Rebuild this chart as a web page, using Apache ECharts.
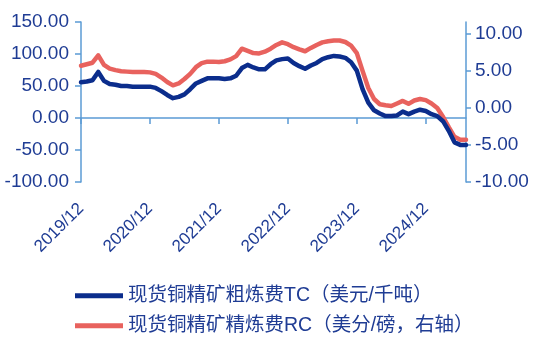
<!DOCTYPE html>
<html>
<head>
<meta charset="utf-8">
<script src="https://cdn.jsdelivr.net/npm/echarts@6/dist/echarts.min.js"></script>
<style>html,body{margin:0;padding:0;background:#fff}#c{width:550px;height:343px}</style>
</head>
<body>
<div id="c"></div>
<script>
// Monthly points from 2019/12 to 2025/07
var months = [];
(function(){ var y=2019,m=12; for(var i=0;i<68;i++){ months.push(y+'/'+(m<10?'0'+m:m)); m++; if(m>12){m=1;y++;} } })();

var tcName = '现货铜精矿粗炼费TC（美元/千吨）';
var rcName = '现货铜精矿精炼费RC（美分/磅，右轴）';

var tcValues = [
  56, 57, 59, 72, 58, 53, 52, 50, 50, 49, 49, 49,
  49, 47, 42, 36, 31, 33, 37, 45, 54, 58, 62, 62,
  62, 61, 62, 66, 78, 83, 79, 76, 76, 84, 90, 92,
  93, 86, 81, 77, 82, 86, 92, 95, 97, 96, 94, 87,
  74, 45, 24, 12, 7, 3, 3, 4, 10, 6, 10, 13,
  11, 6, 3, -5, -20, -38, -42, -42
];

var rcValues = [
  5.7, 5.9, 6.1, 7.1, 5.8, 5.3, 5.1, 4.95, 4.9, 4.85, 4.85, 4.85,
  4.8, 4.6, 4.1, 3.5, 3.05, 3.3, 3.9, 4.6, 5.5, 6.05, 6.25, 6.25,
  6.2, 6.3, 6.55, 7.0, 8.0, 7.7, 7.4, 7.35, 7.6, 8.0, 8.5, 8.85,
  8.6, 8.2, 7.9, 7.65, 8.1, 8.5, 8.85, 9.0, 9.1, 9.1, 8.9, 8.4,
  7.4, 5.0, 2.7, 1.2, 0.5, 0.35, 0.25, 0.6, 0.95, 0.55, 1.0, 1.2,
  1.05, 0.6, 0.0, -1.2, -2.6, -3.9, -4.3, -4.3
];

var rightTicks = [-10, -5, 0, 5, 10];

var axisColor = '#5b9bd5';
var textColor = '#1f3c94';
var font = '"Liberation Sans", Arial, "Noto Sans CJK SC", sans-serif';

function legendFor(name, top) {
  return {
    left: 75, top: top, padding: 0,
    icon: 'rect',
    itemWidth: 48, itemHeight: 5, itemGap: 8,
    textStyle: { color: textColor, fontSize: 19.5, fontFamily: font },
    data: [name]
  };
}

var chart = echarts.init(document.getElementById('c'), null, {renderer:'canvas'});
chart.setOption({
  animation: false,
  backgroundColor: '#ffffff',
  grid: { left: 81, right: 84, top: 22, bottom: 161, containLabel: false },
  legend: [ legendFor(tcName, 286), legendFor(rcName, 316) ],
  xAxis: {
    type: 'category',
    boundaryGap: false,
    data: months,
    axisLine: { onZero: true, lineStyle: { color: axisColor, width: 1.5 } },
    axisTick: { show: true, interval: 11, length: 6, lineStyle: { color: axisColor, width: 1.5 } },
    axisLabel: {
      interval: 11, rotate: 45, margin: 24,
      color: textColor, fontSize: 17, fontFamily: font
    },
    splitLine: { show: false }
  },
  yAxis: [
    {
      type: 'value', min: -100, max: 150, interval: 50,
      axisLine: { show: true, onZero: false, lineStyle: { color: axisColor, width: 1.5 } },
      axisTick: { show: true, length: 6, lineStyle: { color: axisColor, width: 1.5 } },
      axisLabel: { color: textColor, fontSize: 19, fontFamily: font, margin: 12,
        formatter: function(v){ return v.toFixed(2); } },
      splitLine: { show: false }
    },
    {
      type: 'value', min: -10, max: 11.6, interval: 5,
      position: 'right',
      axisLine: { show: true, onZero: false, lineStyle: { color: axisColor, width: 1.5 } },
      axisTick: { show: true, length: 5, customValues: rightTicks, lineStyle: { color: axisColor, width: 1.5 } },
      axisLabel: { color: textColor, fontSize: 19, fontFamily: font, margin: 9,
        customValues: rightTicks,
        formatter: function(v){ return v.toFixed(2); } },
      splitLine: { show: false }
    }
  ],
  series: [
    {
      name: tcName, type: 'line', yAxisIndex: 0, data: tcValues,
      symbol: 'none', z: 3,
      lineStyle: { color: '#0b2d8c', width: 4.5, join: 'round', cap: 'round' },
      itemStyle: { color: '#0b2d8c' }
    },
    {
      name: rcName, type: 'line', yAxisIndex: 1, data: rcValues,
      symbol: 'none', z: 2,
      lineStyle: { color: '#e8625e', width: 4.5, join: 'round', cap: 'round' },
      itemStyle: { color: '#e8625e' }
    }
  ]
});
</script>
</body>
</html>
